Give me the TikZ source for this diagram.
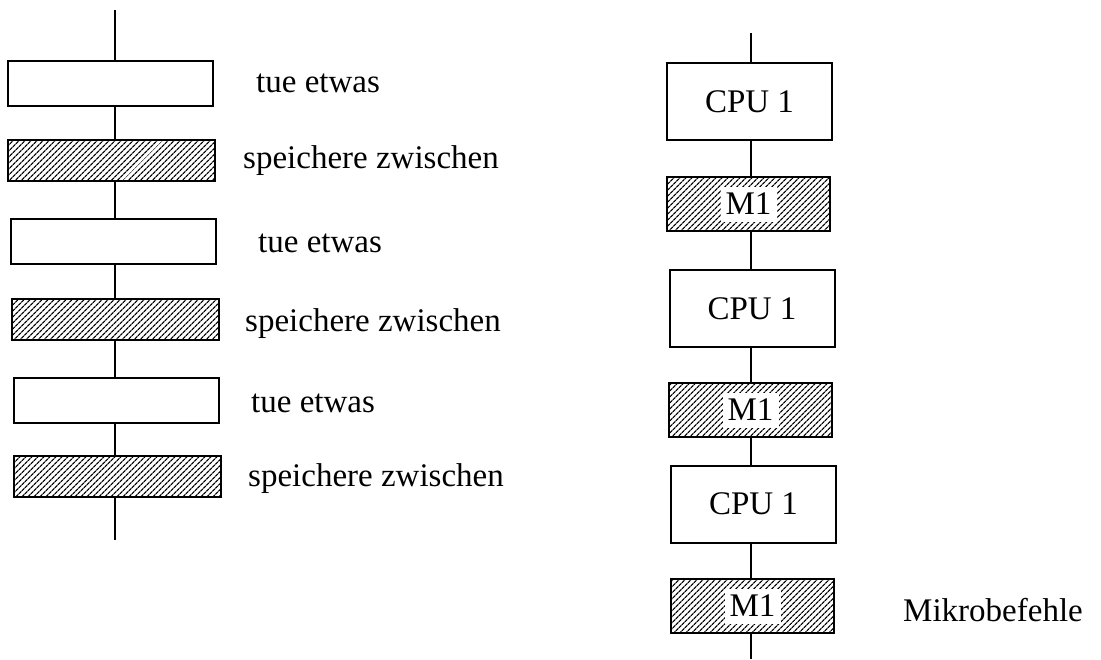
\documentclass[tikz,border=0pt]{standalone}
\usepackage{fontspec}
\setmainfont{Liberation Serif}
\usetikzlibrary{patterns.meta}

\tikzset{
  arbeit/.style={draw, line width=2pt, fill=white, minimum width=205pt, minimum height=45pt, inner sep=0pt},
  puffer/.style={draw, line width=2pt, pattern={Lines[angle=45,distance=4pt,line width=1.3pt]}, minimum width=207pt, minimum height=41pt, inner sep=0pt},
  cpubox/.style={draw, line width=2pt, fill=white, minimum width=165pt, minimum height=77pt, inner sep=0pt},
  membox/.style={draw, line width=2pt, pattern={Lines[angle=45,distance=4pt,line width=1.3pt]}, minimum width=163pt, minimum height=54pt, inner sep=0pt},
  memtext/.style={fill=white, inner sep=0pt, minimum width=56pt, minimum height=35pt},
  beschr/.style={anchor=base west, inner sep=0pt},
  leitung/.style={line width=2pt}
}

\begin{document}
\begin{tikzpicture}[x=1pt, y=-1pt, font=\fontsize{33}{36}\selectfont]
\useasboundingbox (0,0) rectangle (1101,659);

% linke Spalte: Ablauf mit Zwischenspeicher
\coordinate (ltop) at (115,10);
\coordinate (lbot) at (115,540);
\node[arbeit] (t1) at (110.5,83.5) {};
\node[puffer] (s1) at (111.5,160.5) {};
\node[arbeit] (t2) at (113,241.5) {};
\node[puffer] (s2) at (115,319) {};
\node[arbeit] (t3) at (116.5,400.5) {};
\node[puffer] (s3) at (117,476.5) {};

\draw[leitung] (ltop) -- (ltop |- t1.north);
\draw[leitung] (ltop |- t1.south) -- (ltop |- s1.north);
\draw[leitung] (ltop |- s1.south) -- (ltop |- t2.north);
\draw[leitung] (ltop |- t2.south) -- (ltop |- s2.north);
\draw[leitung] (ltop |- s2.south) -- (ltop |- t3.north);
\draw[leitung] (ltop |- t3.south) -- (ltop |- s3.north);
\draw[leitung] (ltop |- s3.south) -- (lbot);

\node[beschr] (lt1) at (256,92) {tue etwas};
\node[beschr] (ls1) at (243,168) {speichere zwischen};
\node[beschr] (lt2) at (258,252) {tue etwas};
\node[beschr] (ls2) at (245,331) {speichere zwischen};
\node[beschr] (lt3) at (251,412) {tue etwas};
\node[beschr] (ls3) at (248,486) {speichere zwischen};

% rechte Spalte: Mikrobefehle
\coordinate (rtop) at (751,33);
\coordinate (rbot) at (751,659);
\node[cpubox] (c1) at (749.5,101.5) {CPU 1};
\node[membox] (m1) at (748.5,204) {};
\node[cpubox] (c2) at (752,308.5) {CPU 1};
\node[membox] (m2) at (750.5,410) {};
\node[cpubox] (c3) at (753.5,504) {CPU 1};
\node[membox] (m3) at (752.5,606) {};
\node[memtext] (m1t) at (m1) {M1};
\node[memtext] (m2t) at (m2) {M1};
\node[memtext] (m3t) at (m3) {M1};

\draw[leitung] (rtop) -- (rtop |- c1.north);
\draw[leitung] (rtop |- c1.south) -- (rtop |- m1.north);
\draw[leitung] (rtop |- m1.south) -- (rtop |- c2.north);
\draw[leitung] (rtop |- c2.south) -- (rtop |- m2.north);
\draw[leitung] (rtop |- m2.south) -- (rtop |- c3.north);
\draw[leitung] (rtop |- c3.south) -- (rtop |- m3.north);
\draw[leitung] (rtop |- m3.south) -- (rbot);

\node[beschr] (mb) at (903,621) {Mikrobefehle};
\end{tikzpicture}
\end{document}
